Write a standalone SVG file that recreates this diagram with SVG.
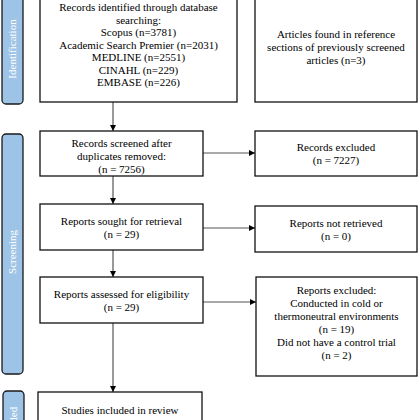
<svg xmlns="http://www.w3.org/2000/svg" width="420" height="420" viewBox="0 0 420 420">
<defs>
<marker id="ah" viewBox="0 0 10 10" refX="10" refY="5" markerWidth="6" markerHeight="6" markerUnits="userSpaceOnUse" orient="auto">
<path d="M0,0 L10,5 L0,10 z" fill="#000"/>
</marker>
<style>
.box{fill:#fff;stroke:#111;stroke-width:1.3}
.side{fill:#9dc3e6;stroke:#1a1a1a;stroke-width:1.3}
.t{font-family:"Liberation Serif","Times New Roman",serif;font-size:11px;fill:#000;text-anchor:middle}
.st{font-family:"Liberation Serif","Times New Roman",serif;font-size:11px;fill:#fff;text-anchor:middle}
.c{stroke:#555;stroke-width:1.2;fill:none;marker-end:url(#ah)}
</style>
</defs>
<rect width="420" height="420" fill="#fff"/>
<g id="side-identification">
<rect class="side" x="2" y="-10" width="21" height="114" rx="4"/>
<text class="st" transform="translate(16,49) rotate(-90)">Identification</text>
</g>
<g id="side-screening">
<rect class="side" x="2" y="134" width="21" height="240" rx="4"/>
<text class="st" transform="translate(16,252) rotate(-90)">Screening</text>
</g>
<g id="side-included">
<rect class="side" x="3" y="391" width="21" height="60" rx="4"/>
<text class="st" transform="translate(17,426) rotate(-90)">Included</text>
</g>
<g id="connectors">
<line class="c" x1="113" y1="102" x2="113" y2="131"/>
<line class="c" x1="113" y1="176" x2="113" y2="204"/>
<line class="c" x1="113" y1="250" x2="113" y2="277"/>
<line class="c" x1="113" y1="323" x2="113" y2="392"/>
<line class="c" x1="203" y1="153" x2="255" y2="153"/>
<line class="c" x1="203" y1="228" x2="255" y2="228"/>
<line class="c" x1="203" y1="302" x2="256" y2="302"/>
</g>
<g id="n-identified">
<rect class="box" x="40" y="-12" width="197" height="114"/>
<text class="t" x="138.5" y="11">Records identified through database</text>
<text class="t" x="138.5" y="23.5">searching:</text>
<text class="t" x="138.5" y="36">Scopus (n=3781)</text>
<text class="t" x="138.5" y="48.5">Academic Search Premier (n=2031)</text>
<text class="t" x="138.5" y="61">MEDLINE (n=2551)</text>
<text class="t" x="138.5" y="73.5">CINAHL (n=229)</text>
<text class="t" x="138.5" y="86">EMBASE (n=226)</text>
</g>
<g id="n-references">
<rect class="box" x="255" y="-12" width="162" height="114"/>
<text class="t" x="336" y="38">Articles found in reference</text>
<text class="t" x="336" y="51">sections of previously screened</text>
<text class="t" x="336" y="64">articles (n=3)</text>
</g>
<g id="n-screened">
<rect class="box" x="40" y="131" width="163" height="45"/>
<text class="t" x="121.5" y="147">Records screened after</text>
<text class="t" x="121.5" y="160">duplicates removed:</text>
<text class="t" x="121.5" y="173">(n = 7256)</text>
</g>
<g id="n-excluded">
<rect class="box" x="255" y="131" width="162" height="45"/>
<text class="t" x="336" y="151">Records excluded</text>
<text class="t" x="336" y="164">(n = 7227)</text>
</g>
<g id="n-sought">
<rect class="box" x="40" y="204" width="163" height="46"/>
<text class="t" x="121.5" y="225">Reports sought for retrieval</text>
<text class="t" x="121.5" y="238">(n = 29)</text>
</g>
<g id="n-notretrieved">
<rect class="box" x="255" y="206" width="162" height="46"/>
<text class="t" x="336" y="227">Reports not retrieved</text>
<text class="t" x="336" y="240">(n = 0)</text>
</g>
<g id="n-assessed">
<rect class="box" x="40" y="277" width="163" height="46"/>
<text class="t" x="121.5" y="298">Reports assessed for eligibility</text>
<text class="t" x="121.5" y="311">(n = 29)</text>
</g>
<g id="n-reportsexcluded">
<rect class="box" x="256" y="277" width="161" height="99"/>
<text class="t" x="336.5" y="294">Reports excluded:</text>
<text class="t" x="336.5" y="307">Conducted in cold or</text>
<text class="t" x="336.5" y="320">thermoneutral environments</text>
<text class="t" x="336.5" y="333">(n = 19)</text>
<text class="t" x="336.5" y="346">Did not have a control trial</text>
<text class="t" x="336.5" y="359">(n = 2)</text>
</g>
<g id="n-included">
<rect class="box" x="38" y="392" width="164" height="50"/>
<text class="t" x="120" y="414">Studies included in review</text>
</g>
</svg>
